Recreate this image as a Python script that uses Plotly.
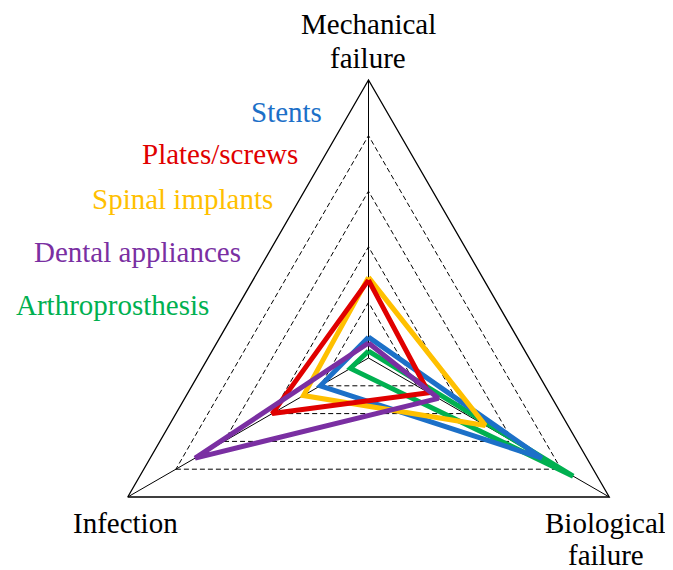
import plotly.graph_objects as go

categories = ["Mechanical failure", "Biological failure", "Infection"]

series_names = ["Arthroprosthesis", "Stents", "Spinal implants", "Plates/screws", "Dental appliances"]
arthroprosthesis = [0.025, 0.85, 0.075]
stents = [0.075, 0.72, 0.20]
spinal_implants = [0.29, 0.485, 0.27]
plates_screws = [0.28, 0.25, 0.40]
dental_appliances = [0.054, 0.29, 0.72]

grid_levels = [0.2, 0.4, 0.6, 0.8, 1.0]

colors = {
    "Stents": "#1C70C8",
    "Plates/screws": "#E00000",
    "Spinal implants": "#FFC000",
    "Dental appliances": "#7A2FA2",
    "Arthroprosthesis": "#00B050",
}
values = {
    "Arthroprosthesis": arthroprosthesis,
    "Stents": stents,
    "Spinal implants": spinal_implants,
    "Plates/screws": plates_screws,
    "Dental appliances": dental_appliances,
}

OFF = 8  # page body margin
W, H = 665, 630
FONT = "Liberation Serif"

fig = go.Figure()
for name in series_names:
    v = values[name]
    fig.add_trace(go.Scatterpolar(
        r=v + [v[0]],
        theta=categories + [categories[0]],
        mode="lines",
        line=dict(color=colors[name], width=5),
        name=name,
        showlegend=False,
        hoverinfo="skip",
    ))

cx, cy, R = 368.5 - OFF, 358.0 - OFF, 278.0
fig.update_layout(
    width=W, height=H,
    margin=dict(l=0, r=0, t=0, b=0),
    paper_bgcolor="white",
    plot_bgcolor="white",
    showlegend=False,
    polar=dict(
        domain=dict(x=[(cx - R) / W, (cx + R) / W], y=[1 - (cy + R) / H, 1 - (cy - R) / H]),
        gridshape="linear",
        bgcolor="white",
        radialaxis=dict(
            range=[0, 1], tickvals=grid_levels, showticklabels=False, ticks="",
            showline=False, showgrid=True, gridcolor="black", gridwidth=1, griddash="5px,3px",
        ),
        angularaxis=dict(
            type="category", categoryarray=categories, rotation=90, direction="clockwise",
            showticklabels=False, ticks="", showline=True, linecolor="black", linewidth=1.3,
            showgrid=True, gridcolor="black", gridwidth=1,
        ),
    ),
)

def ann(text, x, y, color="black", xanchor="center"):
    fig.add_annotation(
        text=text, x=(x - OFF) / W, y=1 - (y - OFF) / H, xref="paper", yref="paper",
        xanchor=xanchor, yanchor="middle", showarrow=False,
        font=dict(family=FONT, size=29, color=color),
    )

ann("Mechanical", 368, 23.5)
ann("failure", 368, 58)
ann("Infection", 125, 522.5)
ann("Biological", 605, 522.5)
ann("failure", 606, 555)

legend_pos = {
    "Stents": (249, 112.5),
    "Plates/screws": (140, 154),
    "Spinal implants": (90, 199),
    "Dental appliances": (32, 252),
    "Arthroprosthesis": (14, 305),
}
for name, (lx, ly) in legend_pos.items():
    ann(name, lx, ly, color=colors[name], xanchor="left")

fig.write_html("out.html")
